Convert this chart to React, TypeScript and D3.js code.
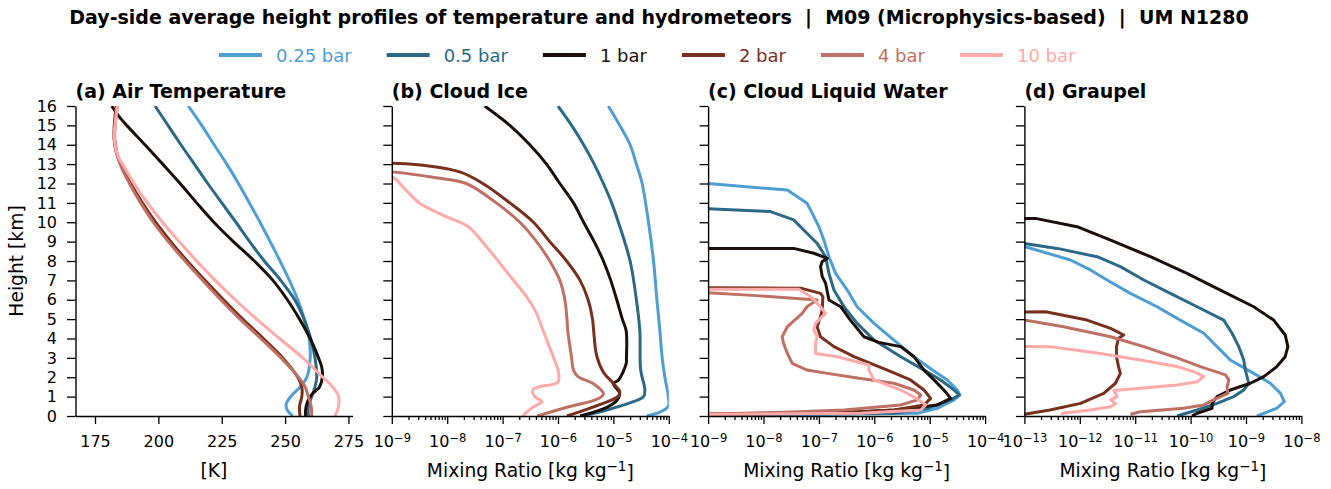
import React, { useEffect, useRef } from 'react';
import * as d3 from 'd3';

const W = 1331;
const H = 489;
const FONT = '"DejaVu Sans", sans-serif';

// Series (surface pressure) labels and colours
const seriesLabels = ['0.25 bar', '0.5 bar', '1 bar', '2 bar', '4 bar', '10 bar'];
const seriesColors = ['#4e9ed4', '#2b6986', '#1c0f0c', '#78301e', '#be7064', '#ffaaaa'];

// (a) Air temperature: [height km, T K]
const tempP025: [number, number][] = [[16, 211.8], [15, 217.1], [14, 222.0], [13, 227.0], [12, 231.6], [11, 235.9], [10, 240.1], [9, 244.1], [8, 248.0], [7, 251.7], [6, 255.0], [5, 257.6], [4, 259.5], [3, 259.9], [2, 258.6], [1.5, 255.9], [1, 252.2], [0.6, 250.4], [0.3, 250.9], [0, 253.0]];
const tempP05: [number, number][] = [[16, 198.7], [15, 203.8], [14, 208.9], [13, 214.2], [12, 219.5], [11, 225.0], [10, 230.6], [9, 236.0], [8, 241.8], [7, 248.3], [6, 253.8], [5, 257.5], [4, 260.1], [3, 261.8], [2, 262.5], [1.5, 261.8], [1, 260.5], [0.5, 259.2], [0, 259.2]];
const tempP1: [number, number][] = [[16, 181.6], [15.5, 184.2], [15, 187.5], [14, 194.7], [13, 201.7], [12, 208.6], [11, 215.1], [10, 221.9], [9, 229.6], [8, 237.9], [7, 245.2], [6, 250.9], [5, 255.7], [4, 259.9], [3, 263.2], [2.5, 264.5], [2, 264.7], [1.5, 263.6], [1.2, 261.2], [1, 259.9], [0.5, 258.3], [0, 258.0]];
const tempP2: [number, number][] = [[16, 183.3], [15, 182.6], [14.3, 182.5], [13.5, 183.6], [13, 185.1], [12, 189.1], [11, 193.7], [10, 198.9], [9, 204.9], [8, 211.4], [7, 218.4], [6, 225.7], [5, 233.3], [4, 241.4], [3, 249.1], [2, 255.0], [1.5, 256.6], [1, 256.6], [0.5, 255.7], [0, 255.9]];
const tempP4: [number, number][] = [[16, 183.8], [15, 183.0], [14.3, 182.8], [13, 184.9], [12, 188.6], [11, 193.0], [10, 198.0], [9, 203.9], [8, 210.5], [7, 217.5], [6, 224.6], [5, 232.2], [4, 240.4], [3, 248.4], [2, 255.3], [1.5, 257.9], [1, 259.2], [0.5, 260.3], [0, 260.5]];
const tempP10: [number, number][] = [[16, 183.8], [15, 182.9], [14.4, 182.6], [13.5, 183.8], [13, 185.9], [12, 190.4], [11, 195.7], [10, 201.6], [9, 208.2], [8, 215.1], [7, 222.4], [6, 230.3], [5, 238.8], [4, 247.8], [3, 257.0], [2, 264.9], [1.5, 268.8], [1, 271.1], [0.5, 271.1], [0, 269.7]];

// (b) Cloud ice mixing ratio: [height km, kg/kg]
const iceP025: [number, number][] = [[16, 8.1e-6], [15, 1.3e-5], [14, 2.0e-5], [13, 2.6e-5], [12, 3.3e-5], [10, 4.3e-5], [8, 5.3e-5], [6, 6.1e-5], [4.4, 6.9e-5], [3, 7.6e-5], [2, 8.5e-5], [1.34, 9.4e-5], [1, 9.8e-5], [0.5, 9.8e-5], [0.2, 6.9e-5], [0, 4.0e-5]];
const iceP05: [number, number][] = [[16, 1.0e-6], [15, 1.76e-6], [14, 2.9e-6], [13, 4.5e-6], [12, 6.6e-6], [11, 9.3e-6], [10, 1.23e-5], [8, 2.0e-5], [6, 2.6e-5], [4.4, 3.0e-5], [2.4, 3.1e-5], [1.34, 3.7e-5], [1.0, 3.5e-5], [0.74, 2.3e-5], [0.31, 7.6e-6], [0, 2.8e-6]];
const iceP1: [number, number][] = [[16, 4.75e-8], [15, 1.35e-7], [14, 3.1e-7], [13, 6.2e-7], [12, 1.08e-6], [11, 1.9e-6], [10, 2.9e-6], [9, 4.5e-6], [8, 6.6e-6], [7, 8.95e-6], [6, 1.15e-5], [5, 1.45e-5], [4.4, 1.7e-5], [3, 1.72e-5], [2.7, 1.7e-5], [1.85, 1.23e-5], [1.68, 1.0e-5], [1.15, 1.3e-5], [0.8, 1.15e-5], [0.45, 7.6e-6], [0, 2.5e-6]];
const iceP2: [number, number][] = [[13.02, 5e-10], [13.02, 1.8e-9], [12.6, 1.68e-8], [12, 4.4e-8], [11, 1.35e-7], [10, 3.6e-7], [9, 7.1e-7], [8, 1.43e-6], [7, 2.5e-6], [6, 3.5e-6], [5, 4.2e-6], [4.4, 4.4e-6], [3.1, 5.0e-6], [2.26, 6.6e-6], [1.68, 1.0e-5], [1.25, 1.3e-5], [1.0, 1.2e-5], [0.6, 5.8e-6], [0, 1.45e-6]];
const iceP4: [number, number][] = [[12.65, 5e-10], [12.6, 1e-9], [12.3, 6.3e-9], [12, 2.2e-8], [11, 7.7e-8], [10, 2.05e-7], [9, 4.1e-7], [8, 7.1e-7], [7, 1.08e-6], [6, 1.33e-6], [5, 1.45e-6], [4.4, 1.5e-6], [3, 1.76e-6], [2.37, 1.9e-6], [2.03, 2.3e-6], [1.68, 4.3e-6], [1.15, 6.6e-6], [0.9, 5.4e-6], [0.45, 1.45e-6], [0, 4.2e-7]];
const iceP10: [number, number][] = [[12.4, 5e-10], [12.35, 1e-9], [11.66, 1.8e-9], [10.98, 3.2e-9], [10.29, 9.6e-9], [9.77, 2.4e-8], [8.74, 5.1e-8], [7.02, 1.55e-7], [6.16, 2.7e-7], [5.3, 4.1e-7], [4.4, 5.4e-7], [3.06, 8.2e-7], [2.37, 1.0e-6], [1.75, 1.0e-6], [1.5, 4.5e-7], [1.34, 3.5e-7], [1.0, 3.8e-7], [0.74, 5.1e-7], [0.45, 3.5e-7], [0, 2.3e-7]];

// (c) Cloud liquid water mixing ratio: [height km, kg/kg]
const liqP025: [number, number][] = [[12.0, 5e-10], [12.0, 1e-9], [11.66, 2.7e-8], [10.98, 6.1e-8], [10.46, 7.6e-8], [9.77, 1.0e-7], [9.08, 1.23e-7], [8.22, 1.52e-7], [7.36, 2.0e-7], [6.5, 3.25e-7], [5.64, 4.9e-7], [4.78, 9.9e-7], [3.92, 2.26e-6], [3.06, 5.2e-6], [2.37, 1.12e-5], [1.86, 2.08e-5], [1.34, 3.16e-5], [1.08, 3.5e-5], [0.83, 2.75e-5], [0.4, 1.38e-5], [0.14, 6.0e-6], [0.08, 1e-7], [0.05, 1e-10]];
const liqP05: [number, number][] = [[10.7, 5e-10], [10.7, 1e-9], [10.55, 1.34e-8], [10.12, 3.5e-8], [9.43, 6.1e-8], [8.91, 9.3e-8], [8.22, 1.32e-7], [7.36, 1.52e-7], [6.5, 1.87e-7], [5.64, 2.83e-7], [4.78, 4.9e-7], [3.92, 9.9e-7], [3.06, 3.0e-6], [2.37, 7.9e-6], [1.86, 1.58e-5], [1.34, 2.75e-5], [1.1, 3.4e-5], [0.83, 2.4e-5], [0.4, 9.1e-6], [0.14, 2.3e-6], [0.09, 1e-8], [0.05, 1e-10]];
const liqP1: [number, number][] = [[8.65, 5e-10], [8.65, 3.5e-8], [8.4, 8.1e-8], [8.14, 1.42e-7], [7.97, 1.15e-7], [7.71, 1.07e-7], [7.19, 1.15e-7], [6.85, 1.32e-7], [5.99, 1.52e-7], [5.64, 2.47e-7], [4.95, 3.7e-7], [4.09, 6.5e-7], [3.8, 1.2e-6], [3.58, 3.0e-6], [3.06, 5.2e-6], [2.37, 7.9e-6], [1.86, 1.2e-5], [1.34, 1.8e-5], [0.91, 2.4e-5], [0.57, 1.38e-5], [0.31, 2.3e-6], [0.16, 2.0e-7], [0.1, 4e-9], [0.06, 1e-10]];
const liqP2: [number, number][] = [[6.62, 5e-10], [6.6, 4.7e-8], [6.33, 1.07e-7], [6.16, 1.18e-7], [5.47, 1.15e-7], [5.13, 1.07e-7], [4.61, 9.3e-8], [4.09, 1.07e-7], [3.58, 1.87e-7], [3.06, 4.3e-7], [2.37, 1.72e-6], [1.86, 4.5e-6], [1.34, 7.9e-6], [0.91, 1.04e-5], [0.57, 7.9e-6], [0.31, 2.3e-6], [0.16, 2.5e-7], [0.11, 1.5e-8], [0.08, 1e-9], [0.05, 1e-10]];
const liqP4: [number, number][] = [[6.42, 5e-10], [6.2, 8.8e-9], [5.99, 9.3e-8], [5.64, 6.1e-8], [5.3, 5.0e-8], [4.61, 2.7e-8], [4.09, 2.17e-8], [3.75, 2.3e-8], [3.23, 2.7e-8], [2.72, 3.3e-8], [2.37, 6.1e-8], [2.2, 1.42e-7], [1.94, 5.7e-7], [1.69, 2.26e-6], [1.34, 5.2e-6], [1.08, 6.9e-6], [0.83, 6.0e-6], [0.57, 3.0e-6], [0.31, 2.8e-7], [0.2, 2.5e-8], [0.12, 2e-9], [0.08, 1e-10]];
const liqP10: [number, number][] = [[6.54, 5e-10], [6.54, 4.35e-8], [6.16, 7.1e-8], [5.64, 1.07e-7], [5.3, 1.32e-7], [4.78, 8.7e-8], [4.44, 8.1e-8], [4.09, 9.3e-8], [3.75, 8.7e-8], [3.23, 8.7e-8], [3.06, 2.14e-7], [2.63, 8.0e-7], [2.37, 8.0e-7], [1.86, 9.9e-7], [1.34, 3.0e-6], [0.83, 6.4e-6], [0.57, 8.5e-6], [0.31, 6.9e-6], [0.14, 5.7e-7], [0.1, 1e-8], [0.06, 1e-10]];

// (d) Graupel mixing ratio: [height km, kg/kg]
const grpP025: [number, number][] = [[8.75, 5e-14], [8.75, 1e-13], [8.05, 6.8e-13], [7.54, 1.55e-12], [7.02, 3.1e-12], [6.33, 8.2e-12], [5.64, 2.48e-11], [4.95, 6.5e-11], [4.27, 1.73e-10], [3.58, 3.0e-10], [2.89, 5.2e-10], [2.2, 1.38e-9], [1.69, 2.75e-9], [1.17, 4.2e-9], [0.74, 4.9e-9], [0.4, 3.6e-9], [0.14, 2.09e-9], [0, 1.58e-9]];
const grpP05: [number, number][] = [[8.9, 5e-14], [8.9, 1e-13], [8.65, 3.9e-13], [8.22, 2.05e-12], [7.71, 5.4e-12], [7.02, 1.43e-11], [6.33, 4.3e-11], [5.64, 1.31e-10], [4.95, 3.96e-10], [4.27, 5.6e-10], [3.58, 7.4e-10], [2.89, 9.1e-10], [2.37, 9.75e-10], [1.69, 1.12e-9], [1.34, 9.1e-10], [1.0, 6.0e-10], [0.65, 3.0e-10], [0.31, 1.31e-10], [0, 5.7e-11]];
const grpP1: [number, number][] = [[10.2, 5e-14], [10.2, 1.58e-13], [9.77, 8.9e-13], [9.08, 3.6e-12], [8.22, 1.88e-11], [7.36, 8.6e-11], [6.5, 3.45e-10], [5.64, 1.38e-9], [4.95, 3.16e-9], [4.18, 5.1e-9], [3.58, 5.7e-9], [3.06, 5.1e-9], [2.55, 3.6e-9], [2.03, 2.09e-9], [1.69, 1.2e-9], [1.34, 5.2e-10], [1.0, 3.0e-10], [0.65, 2.44e-10], [0.4, 2.44e-10], [0.14, 1.31e-10], [0, 1.06e-10]];
const grpP2: [number, number][] = [[5.36, 5e-14], [5.38, 2.4e-13], [4.95, 1.35e-12], [4.52, 3.6e-12], [4.18, 6.2e-12], [4.01, 5.0e-12], [3.58, 4.6e-12], [3.06, 4.6e-12], [2.55, 5.0e-12], [2.2, 5.4e-12], [1.69, 4.4e-12], [1.17, 2.7e-12], [0.65, 1.03e-12], [0.31, 2.9e-13], [0.14, 1.28e-13], [0.09, 1e-13], [0.05, 5e-14]];
const grpP4: [number, number][] = [[4.95, 5e-14], [4.95, 1e-13], [4.61, 5.1e-13], [4.09, 3.6e-12], [3.58, 1.43e-11], [3.06, 4.96e-11], [2.55, 1.5e-10], [2.12, 4.25e-10], [1.86, 4.9e-10], [1.51, 4.55e-10], [1.17, 4.7e-10], [0.83, 2.6e-10], [0.57, 1.73e-10], [0.4, 7.5e-11], [0.22, 1.24e-11], [0.09, 8.2e-12]];
const grpP10: [number, number][] = [[3.6, 5e-14], [3.58, 2.9e-13], [3.23, 2.36e-12], [2.89, 1.24e-11], [2.55, 5.7e-11], [2.29, 1.14e-10], [2.03, 1.73e-10], [1.77, 1.31e-10], [1.6, 5.7e-11], [1.43, 1.24e-11], [1.31, 4.1e-12], [1.17, 4.4e-12], [1.0, 4.7e-12], [0.83, 3.6e-12], [0.65, 4.4e-12], [0.48, 3.6e-12], [0.31, 1.55e-12], [0.14, 4.8e-13], [0.05, 4.8e-13]];

const heightTicks = d3.range(0, 17);
const tempTicks = [175, 200, 225, 250, 275];

interface Panel {
  title: string;
  log: boolean;
  domain: [number, number];
  smooth: boolean;
  series: [number, number][][];
}

const panels: Panel[] = [
  { title: '(a) Air Temperature', log: false, domain: [167.3, 276.6], smooth: true, series: [tempP025, tempP05, tempP1, tempP2, tempP4, tempP10] },
  { title: '(b) Cloud Ice', log: true, domain: [1e-9, 1e-4], smooth: true, series: [iceP025, iceP05, iceP1, iceP2, iceP4, iceP10] },
  { title: '(c) Cloud Liquid Water', log: true, domain: [1e-9, 1e-4], smooth: false, series: [liqP025, liqP05, liqP1, liqP2, liqP4, liqP10] },
  { title: '(d) Graupel', log: true, domain: [1e-13, 1e-8], smooth: false, series: [grpP025, grpP05, grpP1, grpP2, grpP4, grpP10] },
];

function draw(el: SVGSVGElement) {
  const svg = d3.select(el);
  svg.selectAll('*').remove();

  const top = 106;
  const bottom = 416;
  const left0 = 75.5;
  const plotW = 277;
  const gap = 39.3;
  const tickFont = 16;
  const labelFont = 18.7;

  const y = d3.scaleLinear().domain([0, 16]).range([bottom, top]);

  // Figure title
  svg.append('text')
    .attr('x', 659).attr('y', 24)
    .attr('text-anchor', 'middle')
    .attr('font-family', FONT).attr('font-weight', 'bold').attr('font-size', 19)
    .style('white-space', 'pre')
    .text('Day-side average height profiles of temperature and hydrometeors  |  M09 (Microphysics-based)  |  UM N1280');

  // Legend
  const legend = svg.append('g');
  let lx = 219;
  seriesLabels.forEach((lab, i) => {
    legend.append('line')
      .attr('x1', lx).attr('x2', lx + 43).attr('y1', 55).attr('y2', 55)
      .attr('stroke', seriesColors[i]).attr('stroke-width', 4);
    const t = legend.append('text')
      .attr('x', lx + 57).attr('y', 61.5)
      .attr('font-family', FONT).attr('font-size', 18)
      .attr('fill', seriesColors[i])
      .text(lab);
    const tw = (t.node() as SVGTextElement).getComputedTextLength();
    lx += 57 + tw + 35;
  });

  panels.forEach((p, pi) => {
    const x0 = left0 + pi * (plotW + gap);
    const g = svg.append('g');
    const x = p.log
      ? d3.scaleLog().domain(p.domain).range([x0, x0 + plotW])
      : d3.scaleLinear().domain(p.domain).range([x0, x0 + plotW]);

    const clipId = `clip-${pi}`;
    svg.append('clipPath').attr('id', clipId)
      .append('rect').attr('x', x0).attr('y', top).attr('width', plotW).attr('height', bottom - top);

    const line = d3.line<[number, number]>()
      .x((d) => x(d[1]))
      .y((d) => y(d[0]))
      .curve(p.smooth ? d3.curveCatmullRom.alpha(0.5) : d3.curveLinear);

    const lines = g.append('g').attr('clip-path', `url(#${clipId})`);
    p.series.forEach((s, si) => {
      lines.append('path')
        .attr('d', line(s) as string)
        .attr('fill', 'none')
        .attr('stroke', seriesColors[si])
        .attr('stroke-width', 3)
        .attr('stroke-linejoin', 'round')
        .attr('stroke-linecap', 'butt');
    });

    // Left (height) axis
    const yAxis = d3.axisLeft(y).tickValues(heightTicks).tickSize(8.5).tickPadding(10).tickSizeOuter(0)
      .tickFormat(pi === 0 ? (d) => String(d) : () => '');
    const ya = g.append('g').attr('transform', `translate(${x0},0)`).call(yAxis);
    ya.selectAll('text').attr('font-family', FONT).attr('font-size', tickFont).attr('fill', '#000');

    // Bottom axis
    const xa = g.append('g').attr('transform', `translate(0,${bottom})`);
    if (p.log) {
      const [lo, hi] = p.domain.map((v) => Math.round(Math.log10(v)));
      const majors = d3.range(lo, hi + 1).map((e) => Math.pow(10, e));
      const minors: number[] = [];
      for (let e = lo; e < hi; e++) for (let m = 2; m <= 9; m++) minors.push(m * Math.pow(10, e));
      xa.call(d3.axisBottom(x).tickValues(minors).tickSize(4).tickFormat(() => '').tickSizeOuter(0));
      const xm = g.append('g').attr('transform', `translate(0,${bottom})`)
        .call(d3.axisBottom(x).tickValues(majors).tickSize(8).tickPadding(12).tickSizeOuter(0).tickFormat(() => ''));
      xm.select('.domain').remove();
      xm.selectAll<SVGTextElement, number>('.tick text').each(function (d) {
        const t = d3.select(this);
        t.attr('font-family', FONT).attr('font-size', tickFont).attr('fill', '#000');
        t.append('tspan').text('10');
        t.append('tspan').attr('dy', '-0.45em').attr('font-size', tickFont * 0.72)
          .text('\u2212' + Math.abs(Math.round(Math.log10(d))));
      });
    } else {
      xa.call(d3.axisBottom(x).tickValues(tempTicks).tickSize(8).tickPadding(12).tickSizeOuter(0));
      xa.selectAll('text').attr('font-family', FONT).attr('font-size', tickFont).attr('fill', '#000');
    }

    g.selectAll('.domain').attr('stroke', '#000').attr('stroke-width', 1.4);
    g.selectAll('.tick line').attr('stroke', '#000').attr('stroke-width', 1.3);

    // Panel title
    g.append('text')
      .attr('x', x0).attr('y', 98)
      .attr('font-family', FONT).attr('font-weight', 'bold').attr('font-size', 19)
      .text(p.title);

    // x-axis label
    const xl = g.append('text')
      .attr('x', x0 + plotW / 2).attr('y', 477)
      .attr('text-anchor', 'middle')
      .attr('font-family', FONT).attr('font-size', labelFont);
    if (p.log) {
      xl.append('tspan').text('Mixing Ratio [kg kg');
      xl.append('tspan').attr('dy', '-0.45em').attr('font-size', labelFont * 0.72).text('\u22121');
      xl.append('tspan').attr('dy', '0.45em').text(']');
    } else {
      xl.text('[K]');
    }
  });

  // Shared y label
  svg.append('text')
    .attr('transform', `translate(23,${(top + bottom) / 2}) rotate(-90)`)
    .attr('text-anchor', 'middle')
    .attr('font-family', FONT).attr('font-size', labelFont)
    .text('Height [km]');
}

export default function App() {
  const ref = useRef<SVGSVGElement>(null);
  useEffect(() => {
    if (ref.current) draw(ref.current);
  }, []);
  return (
    <svg
      ref={ref}
      width={W}
      height={H}
      style={{ position: 'absolute', left: 0, top: 0, background: '#fff' }}
    />
  );
}
